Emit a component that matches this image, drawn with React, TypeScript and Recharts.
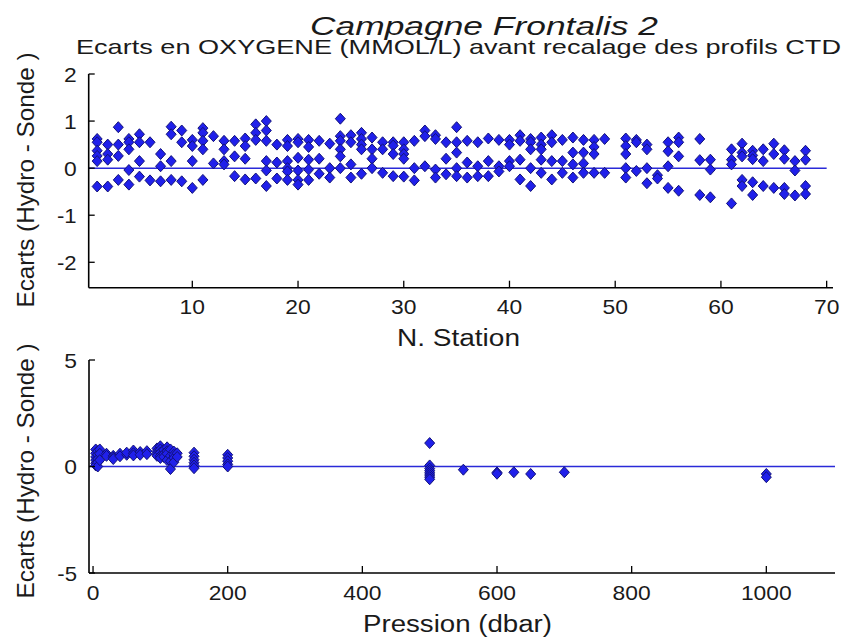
import React from 'react';
import { ScatterChart, Scatter, XAxis, YAxis, ReferenceLine, Label } from 'recharts';

const FONT = '"Liberation Sans", Arial, Helvetica, sans-serif';
const INK = '#1a1a1a';
const MARK_FILL = '#2020ea';
const MARK_EDGE = '#12127a';
const ZERO_LINE = '#2a2ad8';

// Stations sampled (50, 57 and 60 have no bottle data)
const stationIds = [
  1, 2, 3, 4, 5, 6, 7, 8, 9, 10, 11, 12, 13, 14, 15, 16, 17, 18, 19, 20,
  21, 22, 23, 24, 25, 26, 27, 28, 29, 30, 31, 32, 33, 34, 35, 36, 37, 38, 39, 40,
  41, 42, 43, 44, 45, 46, 47, 48, 49, 51, 52, 53, 54, 55, 56, 58, 59, 61, 62, 63,
  64, 65, 66, 67, 68,
];

// Oxygen deviations (hydro - CTD) for each station, one entry per bottle
const ecartsParStation: number[][] = [
  [0.62, 0.55, 0.37, 0.26, 0.15, -0.39],
  [0.5, 0.3, 0.18, -0.39],
  [0.87, 0.5, 0.26, -0.25],
  [0.62, 0.55, 0.4, -0.04, -0.35],
  [0.72, 0.55, 0.15, -0.18],
  [0.55, -0.26],
  [0.3, 0.04, -0.28],
  [0.88, 0.72, 0.15, -0.25],
  [0.8, 0.55, -0.28],
  [0.6, 0.47, 0.15, -0.42],
  [0.85, 0.75, 0.58, 0.4, -0.25],
  [0.68, 0.1],
  [0.58, 0.4, 0.15, 0.08],
  [0.58, 0.25, -0.17],
  [0.63, 0.47, 0.2, -0.24],
  [0.93, 0.75, 0.6, -0.22],
  [1.0, 0.8, 0.58, 0.15, -0.05, -0.38],
  [0.5, 0.12, -0.22],
  [0.6, 0.47, 0.15, 0.0, -0.07, -0.25],
  [0.62, 0.55, 0.22, -0.05, -0.25, -0.35],
  [0.6, 0.45, 0.18, -0.03, -0.25],
  [0.58, 0.2, -0.12],
  [0.52, 0.0, -0.2],
  [1.05, 0.68, 0.58, 0.4, 0.25, 0.0],
  [0.7, 0.55, 0.08, -0.2],
  [0.75, 0.62, 0.5, 0.4, -0.12],
  [0.65, 0.4, 0.2, 0.0],
  [0.55, 0.4, -0.1],
  [0.55, 0.48, 0.3, -0.17],
  [0.55, 0.4, 0.3, 0.2, -0.18],
  [0.58, 0.0, -0.26],
  [0.8, 0.68, 0.04],
  [0.7, 0.62, -0.03, -0.2],
  [0.55, 0.2, -0.13],
  [0.87, 0.55, 0.33, 0.0, -0.17],
  [0.58, 0.12, -0.2],
  [0.55, 0.04, -0.17],
  [0.63, 0.15, -0.17],
  [0.6, 0.04, -0.07],
  [0.6, 0.5, 0.15, 0.04],
  [0.7, 0.58, 0.18, -0.24],
  [0.62, 0.55, 0.4, 0.0, -0.38],
  [0.65, 0.5, 0.4, 0.18, -0.1],
  [0.7, 0.55, 0.15, -0.24],
  [0.6, 0.15, -0.1],
  [0.65, 0.33, 0.08, -0.2],
  [0.6, 0.33, 0.1, -0.1],
  [0.6, 0.45, 0.3, -0.1],
  [0.62, -0.1],
  [0.63, 0.47, 0.3, 0.0, -0.2],
  [0.6, 0.55, -0.06],
  [0.5, 0.4, 0.0, -0.32],
  [-0.15, -0.22],
  [0.55, 0.36, 0.04, -0.42],
  [0.65, 0.55, 0.25, -0.48],
  [0.62, 0.17, -0.57],
  [0.18, -0.03, -0.62],
  [0.4, 0.18, 0.08, -0.75],
  [0.52, 0.33, 0.25, -0.25, -0.38],
  [0.37, 0.27, 0.19, -0.3, -0.57],
  [0.4, 0.15, -0.38],
  [0.52, 0.3, -0.42],
  [0.38, 0.2, -0.42, -0.55],
  [0.15, -0.05, -0.58],
  [0.37, 0.18, -0.38, -0.55],
];

// Sampling pressures (dbar) and the deviations found at each level
const pressionLevels = [
  4, 7, 10, 20, 30, 40, 50, 60, 70, 80, 95, 100, 105, 110, 115, 120, 125,
  150, 200, 500, 550, 600, 625, 650, 700, 1000,
];
const ecartsParNiveau: number[][] = [
  [0.8, 0.62, 0.45, 0.3, 0.15, 0.05],
  [0.72, 0.55, 0.35, 0.2, 0.0],
  [0.8, 0.6, 0.3],
  [0.6, 0.5],
  [0.5, 0.42, 0.35],
  [0.6, 0.48],
  [0.55, 0.65],
  [0.75, 0.62, 0.52],
  [0.68, 0.55],
  [0.72, 0.58],
  [0.85, 0.7, 0.6, 0.5],
  [0.95, 0.8, 0.65, 0.5, 0.4],
  [0.78, 0.58, 0.45],
  [0.9, 0.72, 0.6, 0.3],
  [0.8, 0.5, 0.25, -0.12],
  [0.7, 0.55, 0.4, 0.2],
  [0.62, 0.45],
  [0.65, 0.48, 0.32, 0.18, 0.05, -0.08],
  [0.55, 0.4, 0.25, 0.1, 0.0],
  [1.1, 0.05, -0.1, -0.2, -0.3, -0.4, -0.5, -0.6],
  [-0.15],
  [-0.28, -0.34],
  [-0.27],
  [-0.35],
  [-0.27],
  [-0.35, -0.5],
];

const stationTicks = [10, 20, 30, 40, 50, 60, 70];
const stationEcartTicks = [-2, -1, 0, 1, 2];
const pressionTicks = [0, 200, 400, 600, 800, 1000];
const pressionEcartTicks = [-5, 0, 5];

const stationPoints = stationIds.flatMap((s, i) =>
  ecartsParStation[i].map((v) => ({ x: s, y: v }))
);
const pressionPoints = pressionLevels.flatMap((p, i) =>
  ecartsParNiveau[i].map((v) => ({ x: p, y: v }))
);

const Diamond = (props: any) => {
  const { cx, cy } = props;
  if (cx == null || cy == null) return null;
  return (
    <path
      d={`M${cx},${cy - 5.5}L${cx + 5},${cy}L${cx},${cy + 5.5}L${cx - 5},${cy}Z`}
      fill={MARK_FILL}
      stroke={MARK_EDGE}
      strokeWidth={1}
    />
  );
};

const labelWidth = (s: string) =>
  [...s].reduce((w, c) => w + (c === '-' ? 7 : 12.7), 0);

// MATLAB-style ticks: short marks pointing into the plot area
const makeXTick = (len: number, offset: number) => (props: any) => {
  const { x, y, payload } = props;
  const label = String(payload.value);
  return (
    <g>
      <line x1={x} y1={y} x2={x} y2={y - len} stroke="#000" strokeWidth={1.3} />
      <text
        x={x}
        y={y + offset}
        textAnchor="middle"
        fontSize={21}
        fontFamily={FONT}
        fill={INK}
        textLength={labelWidth(label)}
        lengthAdjust="spacingAndGlyphs"
      >
        {label}
      </text>
    </g>
  );
};

const makeYTick = (len: number) => (props: any) => {
  const { x, y, payload } = props;
  const label = String(payload.value);
  return (
    <g>
      <line x1={x} y1={y} x2={x + len} y2={y} stroke="#000" strokeWidth={1.3} />
      <text
        x={x - 12}
        y={y + 7.5}
        textAnchor="end"
        fontSize={21}
        fontFamily={FONT}
        fill={INK}
        textLength={labelWidth(label)}
        lengthAdjust="spacingAndGlyphs"
      >
        {label}
      </text>
    </g>
  );
};

const yLabel = (cy: number) => () => (
  <text
    x={34}
    y={cy}
    transform={`rotate(-90, 34, ${cy})`}
    textAnchor="middle"
    fontSize={24.5}
    fontFamily={FONT}
    fill={INK}
    textLength={255}
    lengthAdjust="spacingAndGlyphs"
  >
    Ecarts (Hydro - Sonde )
  </text>
);

const topTexts = () => (
  <g fontFamily={FONT} fill={INK}>
    <text
      x={310}
      y={35}
      fontSize={26}
      fontStyle="italic"
      textLength={348}
      lengthAdjust="spacingAndGlyphs"
    >
      Campagne Frontalis 2
    </text>
    <text x={76} y={54} fontSize={21} textLength={765} lengthAdjust="spacingAndGlyphs">
      Ecarts en OXYGENE (MMOL/L) avant recalage des profils CTD
    </text>
    <text x={397} y={346} fontSize={23} textLength={123} lengthAdjust="spacingAndGlyphs">
      N. Station
    </text>
  </g>
);

const bottomXLabel = () => (
  <text
    x={363}
    y={632}
    fontSize={23}
    fontFamily={FONT}
    fill={INK}
    textLength={189}
    lengthAdjust="spacingAndGlyphs"
  >
    Pression (dbar)
  </text>
);

const axisLine = { stroke: '#000', strokeWidth: 1.6 };
const W = 843;
const H = 639;
// space reserved for axes inside the margins
const AXIS_H = 40;
const AXIS_W = 60;

export default function App() {
  return (
    <div style={{ position: 'absolute', left: 0, top: 0, width: W, height: H, background: '#fff' }}>
      <div style={{ position: 'absolute', left: 0, top: 0 }}>
        <ScatterChart
          width={W}
          height={H}
          margin={{ top: 74, right: 10, bottom: 351.3 - AXIS_H, left: 88.7 - AXIS_W }}
        >
          <XAxis
            type="number"
            dataKey="x"
            domain={[0.2, 70.6]}
            ticks={stationTicks}
            interval={0}
            height={AXIS_H}
            tickSize={0}
            tickMargin={0}
            tickLine={false}
            axisLine={axisLine}
            tick={makeXTick(7, 26)}
            allowDataOverflow
          >
            <Label content={topTexts} />
          </XAxis>
          <YAxis
            type="number"
            dataKey="y"
            domain={[-2.54, 2]}
            ticks={stationEcartTicks}
            interval={0}
            width={AXIS_W}
            tickSize={0}
            tickMargin={0}
            tickLine={false}
            axisLine={axisLine}
            tick={makeYTick(6)}
            allowDataOverflow
          >
            <Label content={yLabel(180)} />
          </YAxis>
          <ReferenceLine
            segment={[{ x: 0.2, y: 0 }, { x: 70, y: 0 }]}
            stroke={ZERO_LINE}
            strokeWidth={1.5}
          />
          <Scatter data={stationPoints} shape={Diamond} isAnimationActive={false} />
        </ScatterChart>
      </div>
      <div style={{ position: 'absolute', left: 0, top: 0 }}>
        <ScatterChart
          width={W}
          height={H}
          margin={{ top: 360, right: 8, bottom: 66 - AXIS_H, left: 89 - AXIS_W }}
        >
          <XAxis
            type="number"
            dataKey="x"
            domain={[-6, 1102]}
            ticks={pressionTicks}
            interval={0}
            height={AXIS_H}
            tickSize={0}
            tickMargin={0}
            tickLine={false}
            axisLine={axisLine}
            tick={makeXTick(7, 27)}
            allowDataOverflow
          >
            <Label content={bottomXLabel} />
          </XAxis>
          <YAxis
            type="number"
            dataKey="y"
            domain={[-5, 5]}
            ticks={pressionEcartTicks}
            interval={0}
            width={AXIS_W}
            tickSize={0}
            tickMargin={0}
            tickLine={false}
            axisLine={axisLine}
            tick={makeYTick(6)}
            allowDataOverflow
          >
            <Label content={yLabel(471)} />
          </YAxis>
          <ReferenceLine y={0} stroke={ZERO_LINE} strokeWidth={1.5} />
          <Scatter data={pressionPoints} shape={Diamond} isAnimationActive={false} />
        </ScatterChart>
      </div>
    </div>
  );
}
